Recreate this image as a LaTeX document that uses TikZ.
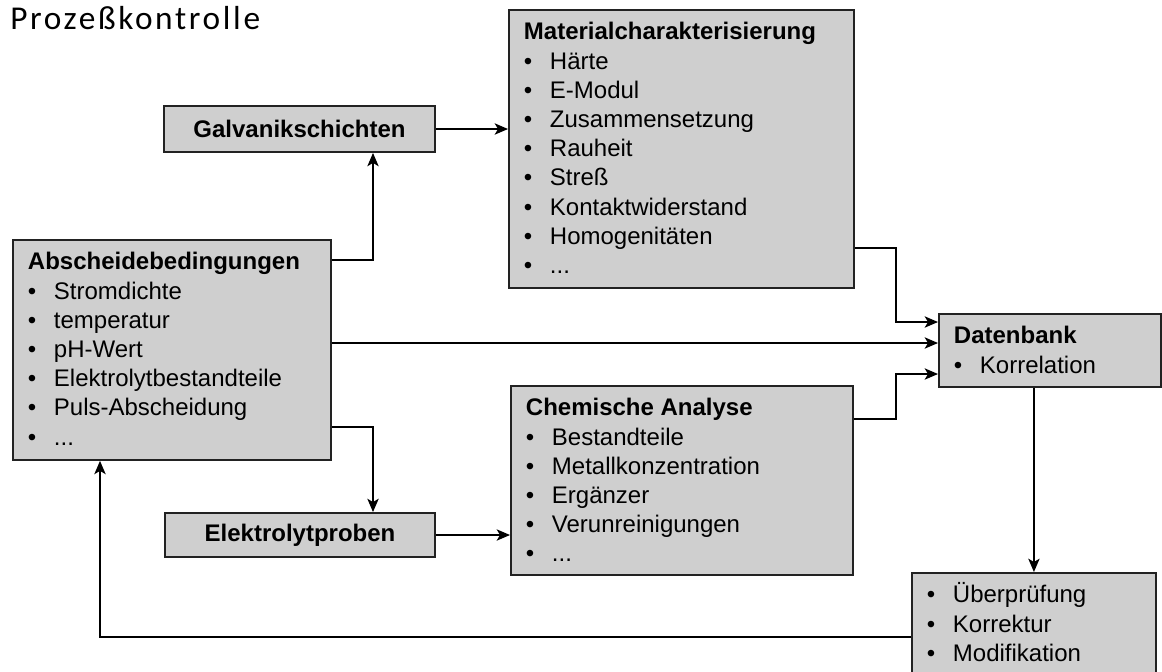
\documentclass[tikz,border=0pt]{standalone}
\usepackage{fontspec}
\setmainfont{Liberation Sans}
\newfontfamily\titlefont[LetterSpace=8]{Carlito}
\usetikzlibrary{arrows.meta,calc}
\definecolor{boxfill}{RGB}{207,207,207}
\definecolor{boxline}{RGB}{34,34,34}

% heading line and bullet line of a list box
\newcommand\hd[1]{\strut\textbf{#1}}
\newcommand\itm[1]{\par\strut\makebox[19.5pt][l]{\textbullet}#1}
% list box body: width, height, lines (top aligned)
\newcommand\listbox[3]{\parbox[c][#2][t]{#1}{\fontsize{18}{21.9}\selectfont
  \parindent=0pt\leftskip=11.25pt\vspace*{7.2pt}#3\par}}

\tikzset{
  x=0.75pt, y=-0.75pt,
  box/.style={draw=boxline, fill=boxfill, line width=1.4pt, inner sep=0pt, rectangle},
  lbox/.style={box, anchor=north west},
  sbox/.style={box, font=\fontsize{18}{20}\selectfont\bfseries},
  conn/.style={line width=1.1pt, -{Stealth[length=10pt,width=8.5pt,inset=2.5pt]}},
}

\begin{document}
\begin{tikzpicture}
\clip (0,0) rectangle (1162,671);
\fill[white] (0,0) rectangle (1162,671);

\node[anchor=base west, inner sep=0pt] (title) at (10,29)
  {\titlefont\fontsize{25}{30}\selectfont Prozeßkontrolle};

% list boxes
\node[lbox] (mat) at (508,9) {\listbox{258.75pt}{208.5pt}{%
  \hd{Materialcharakterisierung}
  \itm{Härte}\itm{E-Modul}\itm{Zusammensetzung}\itm{Rauheit}
  \itm{Streß}\itm{Kontaktwiderstand}\itm{Homogenitäten}\itm{...}}};
\node[lbox] (abs) at (12,239) {\listbox{238.5pt}{165pt}{%
  \hd{Abscheidebedingungen}
  \itm{Stromdichte}\itm{temperatur}\itm{pH-Wert}
  \itm{Elektrolytbestandteile}\itm{Puls-Abscheidung}\itm{...}}};
\node[lbox] (chem) at (510,385) {\listbox{256.5pt}{141.75pt}{%
  \hd{Chemische Analyse}
  \itm{Bestandteile}\itm{Metallkonzentration}\itm{Ergänzer}
  \itm{Verunreinigungen}\itm{...}}};
\node[lbox] (db) at (938,313) {\listbox{166.5pt}{54.75pt}{%
  \hd{Datenbank}
  \itm{Korrelation}}};
\node[lbox] (fix) at (911,572) {\listbox{183pt}{90pt}{%
  \itm{Überprüfung}\itm{Korrektur}\itm{Modifikation}}};

% single-line boxes
\node[sbox, minimum width=203.25pt, minimum height=34.5pt] (gal) at (299.5,129) {Galvanikschichten};
\node[sbox, minimum width=202.5pt, minimum height=33pt] (elp) at (300,535) {Elektrolytproben};

% elbow points
\coordinate (j1) at (373,260);
\coordinate (j2) at (373,427);
\coordinate (j3) at (896,248);
\coordinate (d1) at (938,322);
\coordinate (d2) at (938,343);
\coordinate (j4) at (896,419);
\coordinate (d3) at (938,374);
\coordinate (j5) at (100,637);

% connectors
\draw[conn] (gal.east) -- (gal.east -| mat.west);
\draw[conn] (abs.east |- j1) -- (j1) -- (j1 |- gal.south);
\draw[conn] (abs.east |- j2) -- (j2) -- (j2 |- elp.north);
\draw[conn] (elp.east) -- (elp.east -| chem.west);
\draw[conn] (mat.east |- j3) -- (j3) |- (d1);
\draw[conn] (abs.east |- d2) -- (d2);
\draw[conn] (chem.east |- j4) -- (j4) |- (d3);
\draw[conn] (fix.north |- db.south) -- (fix.north);
\draw[conn] (fix.west |- j5) -- (j5) -- (j5 |- abs.south);
\end{tikzpicture}
\end{document}
